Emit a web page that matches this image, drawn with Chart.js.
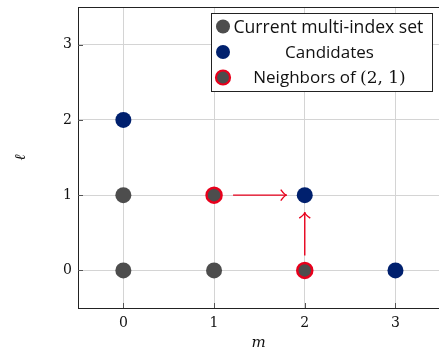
<!DOCTYPE html>
<html>
<head>
<meta charset="utf-8">
<script src="https://cdn.jsdelivr.net/npm/chart.js@4/dist/chart.umd.min.js"></script>
<style>
  html, body { margin: 0; padding: 0; background: #fff; }
  #wrap { width: 439px; height: 352px; }
</style>
</head>
<body>
<div id="wrap"><canvas id="grid-chart"></canvas></div>
<script>
// multi-index points (m, l)
var currentM = [0, 1, 0];
var currentL = [0, 0, 1];
var candidateM = [0, 2, 3];
var candidateL = [2, 1, 0];
var neighborM = [1, 2];
var neighborL = [1, 0];
// arrows: from neighbor to candidate (2,1)
var arrowFrom = [[1, 1], [2, 0]];
var arrowTo = [[2, 1], [2, 1]];
var tickValues = [0, 1, 2, 3];

function toPoints(xs, ys) {
    return xs.map(function(x, i) { return {x: x, y: ys[i]}; });
}

var GRAY = '#4d4d4d';
var NAVY = '#00206e';
var RED = '#e8001c';

var arrowPlugin = {
    id: 'arrows',
    afterDatasetsDraw: function(chart) {
        var c = chart.ctx, xs = chart.scales.x, ys = chart.scales.y;
        c.save();
        c.strokeStyle = RED;
        c.lineWidth = 1.4;
        arrowFrom.forEach(function(f, i) {
            var t = arrowTo[i];
            var x1 = xs.getPixelForValue(f[0]), y1 = ys.getPixelForValue(f[1]);
            var x2 = xs.getPixelForValue(t[0]), y2 = ys.getPixelForValue(t[1]);
            var dx = x2 - x1, dy = y2 - y1, len = Math.sqrt(dx * dx + dy * dy);
            var ux = dx / len, uy = dy / len;
            var sx = x1 + ux * 19, sy = y1 + uy * 15;
            var ex = x2 - ux * 18, ey = y2 - uy * 17;
            c.beginPath();
            c.moveTo(sx, sy);
            c.lineTo(ex, ey);
            c.stroke();
            // open arrow head
            var px = -uy, py = ux;
            c.beginPath();
            c.moveTo(ex - ux * 6 + px * 5.5, ey - uy * 6 + py * 5.5);
            c.quadraticCurveTo(ex - ux * 2, ey - uy * 2, ex, ey);
            c.quadraticCurveTo(ex - ux * 2, ey - uy * 2, ex - ux * 6 - px * 5.5, ey - uy * 6 - py * 5.5);
            c.stroke();
        });
        c.restore();
    }
};

var framePlugin = {
    id: 'frame',
    afterDraw: function(chart) {
        var c = chart.ctx, a = chart.chartArea;
        c.save();
        c.strokeStyle = '#222';
        c.lineWidth = 1;
        c.strokeRect(a.left + 0.5, a.top + 0.5, a.right - a.left + 2, a.bottom - a.top);
        // inward tick marks
        c.strokeStyle = '#555';
        tickValues.forEach(function(v) {
            var x = Math.round(chart.scales.x.getPixelForValue(v)) + 0.5;
            c.beginPath(); c.moveTo(x, a.bottom); c.lineTo(x, a.bottom - 5); c.stroke();
            var y = Math.round(chart.scales.y.getPixelForValue(v)) + 0.5;
            c.beginPath(); c.moveTo(a.left, y); c.lineTo(a.left + 5, y); c.stroke();
        });

        // legend box
        var bx = 211.5, by = 13.5, bw = 221, bh = 78;
        c.fillStyle = '#fff';
        c.fillRect(bx, by, bw, bh);
        c.strokeStyle = '#222';
        c.strokeRect(bx, by, bw, bh);
        var FS = '17px "Open Sans"', FM = '17px "DejaVu Serif"';
        c.font = FS;
        c.textBaseline = 'middle';
        [0, 1, 2].forEach(function(di, i) {
            var ds = chart.data.datasets[di];
            var cy = by + 13 + i * 25.5;
            c.beginPath();
            c.arc(bx + 11.5, cy, 7, 0, Math.PI * 2);
            c.fillStyle = ds.backgroundColor;
            c.fill();
            if (ds.borderWidth > 0) {
                c.lineWidth = 2.2;
                c.strokeStyle = ds.borderColor;
                c.stroke();
            }
            c.fillStyle = '#111';
            if (i === 0) {
                c.textAlign = 'left';
                c.font = '17.6px "Open Sans"';
                c.fillText(ds.label, bx + 22, cy + 1);
                c.font = FS;
            } else if (i === 1) {
                c.textAlign = 'center';
                c.fillText(ds.label, bx + 118, cy + 1);
            } else {
                // "Neighbors of " sans + "(2, 1)" serif
                var t1 = 'Neighbors of ', t2 = '(2, 1)';
                c.font = FS;
                var w1 = c.measureText(t1).width;
                c.font = FM;
                var w2 = c.measureText(t2).width;
                var start = bx + 118 - (w1 + w2) / 2;
                c.textAlign = 'left';
                c.font = FS;
                c.fillText(t1, start, cy + 1);
                c.font = FM;
                c.fillText(t2, start + w1, cy + 1);
                c.font = FS;
            }
        });
        c.restore();
    }
};

function noPad(scale) {
    scale.paddingTop = 0;
    scale.paddingBottom = 0;
    scale.paddingLeft = 0;
    scale.paddingRight = 0;
}

var ctx = document.getElementById('grid-chart').getContext('2d');
var myChart = new Chart(ctx, {
    type: 'scatter',
    data: {
        datasets: [{
            label: 'Current multi-index set',
            data: toPoints(currentM, currentL),
            backgroundColor: GRAY,
            borderColor: GRAY,
            borderWidth: 0,
            pointRadius: 8,
            pointHoverRadius: 8
        }, {
            label: 'Candidates',
            data: toPoints(candidateM, candidateL),
            backgroundColor: NAVY,
            borderColor: NAVY,
            borderWidth: 0,
            pointRadius: 8,
            pointHoverRadius: 8
        }, {
            label: 'Neighbors of (2, 1)',
            data: toPoints(neighborM, neighborL),
            backgroundColor: GRAY,
            borderColor: RED,
            borderWidth: 2.5,
            pointRadius: 7.5,
            pointHoverRadius: 7.5
        }]
    },
    options: {
        responsive: true,
        maintainAspectRatio: false,
        animation: false,
        layout: { autoPadding: false, padding: { top: 7, right: 0, left: 0, bottom: 0 } },
        plugins: {
            legend: { display: false },
            tooltip: { enabled: false }
        },
        scales: {
            x: {
                type: 'linear',
                min: -0.5,
                max: 3.48,
                afterBuildTicks: function(scale) {
                    scale.ticks = tickValues.map(function(v) { return {value: v}; });
                },
                afterFit: function(scale) { scale.height = 44; noPad(scale); },
                grid: { color: '#d4d4d4', drawTicks: false, lineWidth: 1 },
                border: { display: true, color: '#222' },
                ticks: {
                    color: '#111',
                    padding: 7,
                    font: { family: '"DejaVu Serif"', size: 14 }
                },
                title: {
                    display: true,
                    text: 'm',
                    color: '#111',
                    padding: { top: 3, bottom: 0 },
                    font: { family: '"DejaVu Serif"', size: 15, style: 'italic' }
                }
            },
            y: {
                type: 'linear',
                min: -0.5,
                max: 3.5,
                afterBuildTicks: function(scale) {
                    scale.ticks = tickValues.map(function(v) { return {value: v}; });
                },
                afterFit: function(scale) { scale.width = 78; noPad(scale); },
                grid: { color: '#d4d4d4', drawTicks: false, lineWidth: 1 },
                border: { display: true, color: '#222' },
                ticks: {
                    color: '#111',
                    padding: 6,
                    font: { family: '"DejaVu Serif"', size: 14 }
                },
                title: {
                    display: true,
                    text: 'ℓ',
                    color: '#111',
                    padding: { top: 12, bottom: 0 },
                    font: { family: '"DejaVu Serif"', size: 15, style: 'italic' }
                }
            }
        }
    },
    plugins: [arrowPlugin, framePlugin]
});
</script>
</body>
</html>
